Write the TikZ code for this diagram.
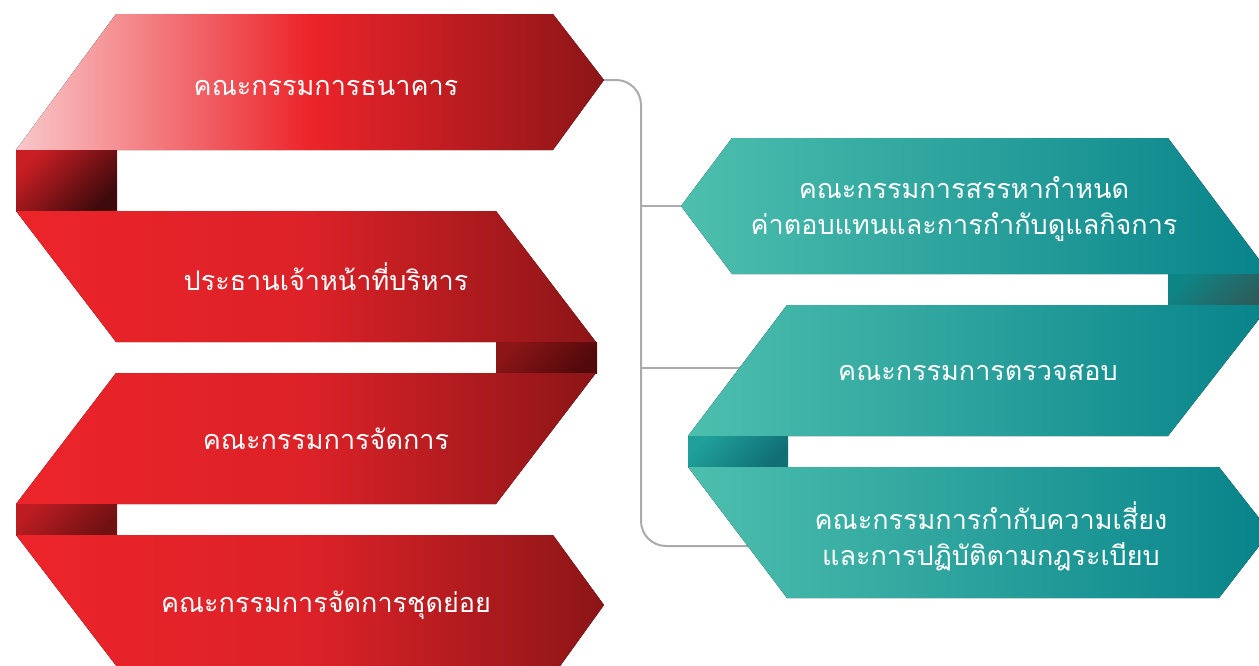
\documentclass[tikz,border=0pt]{standalone}
\usepackage{fontspec}
\newfontfamily\thaifont[Script=Thai]{Loma}
\usetikzlibrary{positioning}
\definecolor{rojoClaro}{RGB}{249,200,202}
\definecolor{rojoVivo}{RGB}{236,36,42}
\definecolor{rojoMedio}{RGB}{220,34,40}
\definecolor{rojoOscuro}{RGB}{140,21,23}
\definecolor{rojoNegro}{RGB}{62,10,12}
\definecolor{verdeClaro}{RGB}{77,191,174}
\definecolor{verdeOscuro}{RGB}{7,131,138}
\definecolor{verdePliegue}{RGB}{14,133,133}
\definecolor{verdeSombra}{RGB}{46,91,91}
\definecolor{verdeBrillo}{RGB}{32,160,154}
\definecolor{verdeHondo}{RGB}{16,110,116}
\definecolor{grisLinea}{RGB}{170,171,174}

\begin{document}
\begin{tikzpicture}[x=1pt, y=-1pt,
    texto/.style={text=white, font=\thaifont\fontsize{27}{36}\selectfont, align=center},
    conector/.style={draw=grisLinea, line width=2pt},
    pliegue/.style={shading angle=45}]
            % Lienzo fijo (mismas proporciones que la referencia)
            \useasboundingbox (0,0) rectangle (1259,665);
            \clip (0,0) rectangle (1259,665);

            % Puntos de union de las lineas grises
            \coordinate (puntaBanco) at (604,80);
            \coordinate (troncoArriba) at (641,80);
            \coordinate (troncoAbajo) at (641,546);
            \coordinate (puntaRemun) at (681,206);
            \coordinate (bordeAudit) at (745,368);
            \coordinate (bordeRiesgo) at (752,546);

            % Lineas grises (van detras de las cintas verdes)
            \draw[conector, rounded corners=25pt] (puntaBanco) -- (troncoArriba) -- (troncoAbajo) -- (bordeRiesgo);
            \draw[conector] (puntaRemun -| troncoArriba) -- (puntaRemun);
            \draw[conector] (bordeAudit -| troncoArriba) -- (bordeAudit);

            % Cinta roja 1 (banco)
            \fill[left color=rojoClaro, right color=rojoOscuro, middle color=rojoVivo]
            (116,14) -- (553,14) -- (puntaBanco) -- (553,150) -- (16,150) -- cycle;
            % Pliegue 1
            \fill[top color=rojoVivo!85!black, bottom color=rojoNegro, pliegue]
            (16,150) rectangle (117,211);

            % Cinta roja 2
            \fill[left color=rojoVivo, right color=rojoOscuro, middle color=rojoMedio]
            (16,211) -- (496,211) -- (596,342) -- (116,342) -- cycle;
            % Pliegue 2
            \fill[top color=rojoOscuro, bottom color=rojoNegro!90!red, pliegue]
            (496,342) rectangle (597,373);

            % Cinta roja 3
            \fill[left color=rojoVivo, right color=rojoOscuro, middle color=rojoMedio]
            (116,373) -- (596,373) -- (496,504) -- (16,504) -- cycle;
            % Pliegue 3
            \fill[top color=rojoVivo!80!black, bottom color=rojoOscuro!80!black, pliegue]
            (16,504) rectangle (117,535);

            % Cinta roja 4 (cortada por el borde de abajo)
            \fill[left color=rojoVivo, right color=rojoOscuro, middle color=rojoMedio]
            (16,535) -- (553,535) -- (604,605) -- (553,676) -- (124,676) -- cycle;

            % Cinta verde 1
            \fill[left color=verdeClaro, right color=verdeOscuro]
            (732,138) -- (1168,138) -- (1270,274) -- (732,274) -- (puntaRemun) -- cycle;
            % Pliegue verde 1
            \fill[top color=verdePliegue, bottom color=verdeSombra, pliegue]
            (1168,274) rectangle (1270,305);

            % Cinta verde 2
            \fill[left color=verdeClaro, right color=verdeOscuro]
            (787,305) -- (1270,305) -- (1168,436) -- (688,436) -- cycle;
            % Pliegue verde 2
            \fill[top color=verdeBrillo, bottom color=verdeHondo, pliegue]
            (688,436) rectangle (788,467);

            % Cinta verde 3
            \fill[left color=verdeClaro, right color=verdeOscuro]
            (688,467) -- (1219,467) -- (1270,532) -- (1219,598) -- (787,598) -- cycle;

            % Textos
            \node[texto] (banco) at (326,88) {คณะกรรมการธนาคาร};
            \node[texto] (ceo) at (326,277) {ประธานเจ้าหน้าที่บริหาร};
            \node[texto] (gestion) at (326,439) {คณะกรรมการจัดการ};
            \node[texto] (subgestion) at (326,605) {คณะกรรมการจัดการชุดย่อย};
            \node[texto] (remuneracion) at (964,209) {คณะกรรมการสรรหากำหนด\\ค่าตอบแทนและการกำกับดูแลกิจการ};
            \node[texto] (auditoria) at (978,373) {คณะกรรมการตรวจสอบ};
            \node[texto] (riesgo) at (991,536) {คณะกรรมการกำกับความเสี่ยง\\และการปฏิบัติตามกฎระเบียบ};
        \end{tikzpicture}
\end{document}
